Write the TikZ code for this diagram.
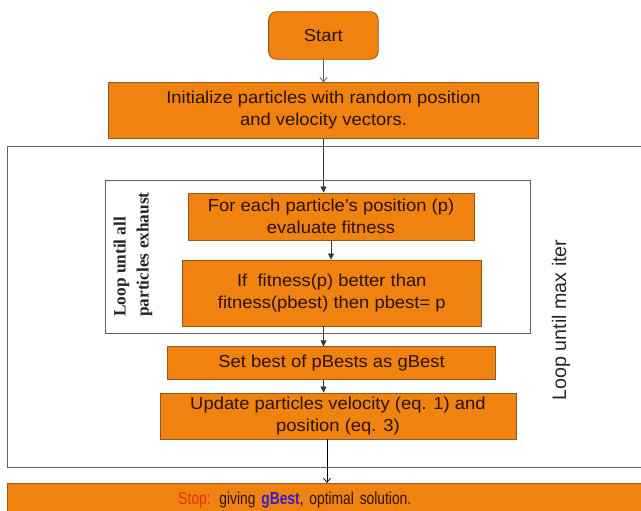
\documentclass[tikz,border=0pt]{standalone}
\usepackage{fontspec}
\setmainfont{Liberation Sans}
\newfontfamily\boxfont{Liberation Sans}[FakeStretch=1.065]
\newfontfamily\stopfont{Liberation Sans}[FakeStretch=0.8]
\newfontfamily\loopfont{Liberation Serif}
\usetikzlibrary{arrows.meta,calc,positioning}

\definecolor{psoorange}{RGB}{240,130,16}
\definecolor{psoedge}{RGB}{150,85,30}
\definecolor{psotext}{RGB}{40,20,8}
\definecolor{framegray}{RGB}{95,95,95}
\definecolor{stopred}{RGB}{240,45,20}
\definecolor{gbestblue}{RGB}{60,30,200}

\tikzset{
    procbox/.style={draw=psoedge, fill=psoorange, line width=0.6pt, text=psotext,
        inner sep=0pt, align=center, font=\boxfont\fontsize{12.3}{15.6}\selectfont},
    loopframe/.style={draw=framegray, line width=0.7pt},
    openarrow/.style={-{Straight Barb[length=1.1mm,width=1.8mm]}, line width=0.5pt},
    fillarrow/.style={-{Triangle[length=1.5mm,width=1.5mm]}, line width=0.5pt, draw=black!80}
}

\begin{document}
\begin{tikzpicture}[x=0.025cm, y=-0.025cm]

    \useasboundingbox (0,0) rectangle (641,511);
    \clip (0,0) rectangle (641,511);

    \draw[loopframe] (7.3,146.5) rectangle (660,467);
    \draw[loopframe] (105.5,180) rectangle (530,333);

    \node[procbox, rounded corners=0.2cm, minimum width=2.74cm, minimum height=1.19cm] at (323.4,35.5) (Start) {Start};
    \node[procbox, minimum width=10.76cm, minimum height=1.39cm] at (323.5,110.5) (Init) {Initialize particles with random position\\and velocity vectors.};

    \node[procbox, minimum width=7.15cm, minimum height=1.175cm] at (331,216.5) (Each) {For each particle’s position (p)\\evaluate fitness};
    \node[procbox, minimum width=7.49cm, minimum height=1.65cm] at (331.8,293) (Better) {If~ fitness(p) better than\\fitness(pbest) then pbest= p};
    \node[procbox, minimum width=8.2cm, minimum height=0.83cm] at (331.5,363.3) (SetBest) {Set best of pBests as gBest};
    \node[procbox, minimum width=8.9cm, minimum height=1.15cm] at (338,416) (Update) {Update particles velocity (eq. 1) and\\position (eq. 3)};

    \node[procbox, anchor=north west, text width=8cm, align=left, inner xsep=4.275cm, minimum height=0.85cm,
        font=\stopfont\fontsize{12.3}{14}\selectfont] at (7,483) (Stop)
        {\textcolor{stopred}{Stop:} giving \textcolor{gbestblue}{\textbf{gBest}}, optimal solution.};

    \node[rotate=90, text=black!85, font=\fontsize{14}{16}\selectfont] at (561,320) (MaxIter) {Loop until max iter};
    \node[rotate=90, align=left, text=black!85, font=\loopfont\bfseries\fontsize{12.3}{16.3}\selectfont] at (133,254.5) (Exhaust) {Loop until all\\particles exhaust};

    \draw[openarrow, draw=black!65] (Start.south) -- (Init.north);
    \draw[fillarrow] (Init.south) -- (Init.south |- Each.north);
    \draw[fillarrow] (Each.south) -- (Each.south |- Better.north);
    \draw[fillarrow] (Better.south -| Init.south) -- (SetBest.north -| Init.south);
    \draw[fillarrow] (SetBest.south -| Init.south) -- (Update.north -| Init.south);
    \draw[openarrow] ($(Update.south)+(-11,0)$) -- ($(Update.south |- Stop.north)+(-11,0)$);
\end{tikzpicture}
\end{document}
